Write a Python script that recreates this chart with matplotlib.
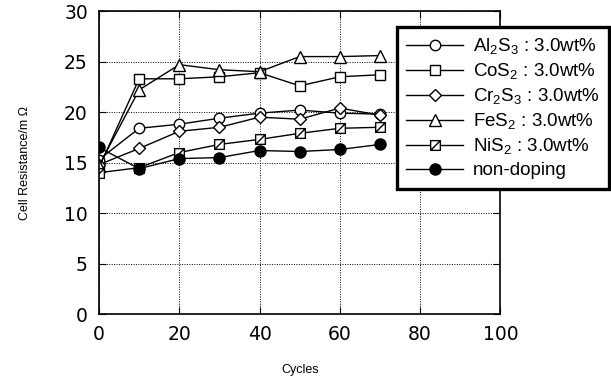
import numpy as np
import matplotlib
matplotlib.use("Agg")
import matplotlib.pyplot as plt
from matplotlib.path import Path

# -------------------------------------------------
# Data
# -------------------------------------------------
cycles = [0, 10, 20, 30, 40, 50, 60, 70]

al2s3 = [15.3, 18.4, 18.8, 19.4, 19.9, 20.2, 19.9, 19.8]
cos2 = [14.5, 23.3, 23.3, 23.5, 23.9, 22.6, 23.5, 23.7]
cr2s3 = [14.8, 16.4, 18.1, 18.5, 19.5, 19.3, 20.4, 19.7]
fes2 = [14.7, 22.2, 24.7, 24.2, 24.0, 25.5, 25.5, 25.6]
nis2 = [14.0, 14.5, 16.0, 16.8, 17.3, 17.9, 18.4, 18.5]
non_doping = [16.5, 14.4, 15.4, 15.5, 16.2, 16.1, 16.3, 16.8]

labels = [
    r"Al$_2$S$_3$ : 3.0wt%",
    r"CoS$_2$ : 3.0wt%",
    r"Cr$_2$S$_3$ : 3.0wt%",
    r"FeS$_2$ : 3.0wt%",
    r"NiS$_2$ : 3.0wt%",
    "non-doping",
]

# square with a diagonal stroke (NiS2 marker)
hatched_square = Path(
    [(-1, -1), (1, -1), (1, 1), (-1, 1), (-1, -1), (-1, -1), (1, 1)],
    [Path.MOVETO, Path.LINETO, Path.LINETO, Path.LINETO, Path.CLOSEPOLY,
     Path.MOVETO, Path.LINETO],
)

plt.rcParams["font.family"] = ["Liberation Sans", "DejaVu Sans"]
plt.rcParams["mathtext.fontset"] = "custom"
plt.rcParams["mathtext.rm"] = "Liberation Sans"

fig = plt.figure(figsize=(6.11, 3.84), dpi=100)
ax = fig.add_axes([0.162, 0.182, 0.657, 0.789])

style = dict(color="black", linewidth=1.0, markeredgecolor="black",
             markeredgewidth=1.0)
ax.plot(cycles, al2s3, marker="o", markersize=7.5, markerfacecolor="white",
        label=labels[0], **style)
ax.plot(cycles, cos2, marker="s", markersize=7, markerfacecolor="white",
        label=labels[1], **style)
ax.plot(cycles, cr2s3, marker="D", markersize=6, markerfacecolor="white",
        label=labels[2], **style)
ax.plot(cycles, fes2, marker="^", markersize=8, markerfacecolor="white",
        label=labels[3], **style)
ax.plot(cycles, nis2, marker=hatched_square, markersize=7,
        markerfacecolor="white", label=labels[4], **style)
ax.plot(cycles, non_doping, marker="o", markersize=8,
        markerfacecolor="black", label=labels[5], **style)

ax.set_xlim(0, 100)
ax.set_ylim(0, 30)
ax.set_xticks(np.arange(0, 101, 20))
ax.set_yticks(np.arange(0, 31, 5))
ax.grid(True, linestyle=(0, (1, 1.5)), color="black", linewidth=0.7)
ax.tick_params(direction="in", top=True, right=True, length=5,
               labelsize=13.5, pad=8)
for lbl in ax.get_xticklabels() + ax.get_yticklabels():
    lbl.set_family(["DejaVu Sans"])
for spine in ax.spines.values():
    spine.set_linewidth(1.2)

ax.set_xlabel("Cycles", fontsize=9, labelpad=14)
ax.set_ylabel("Cell Resistance/m Ω", fontsize=9, labelpad=24)

leg = ax.legend(
    loc="upper right", bbox_to_anchor=(0.997, 0.93),
    bbox_transform=fig.transFigure, fontsize=13.5, handlelength=3.0,
    labelspacing=0.26, frameon=True, fancybox=False, shadow=False,
    borderpad=0.5, handletextpad=0.55, borderaxespad=0,
)
leg.get_frame().set_edgecolor("black")
leg.get_frame().set_linewidth(2.4)
leg.get_frame().set_alpha(1)

fig.savefig("out.png", dpi=100)
